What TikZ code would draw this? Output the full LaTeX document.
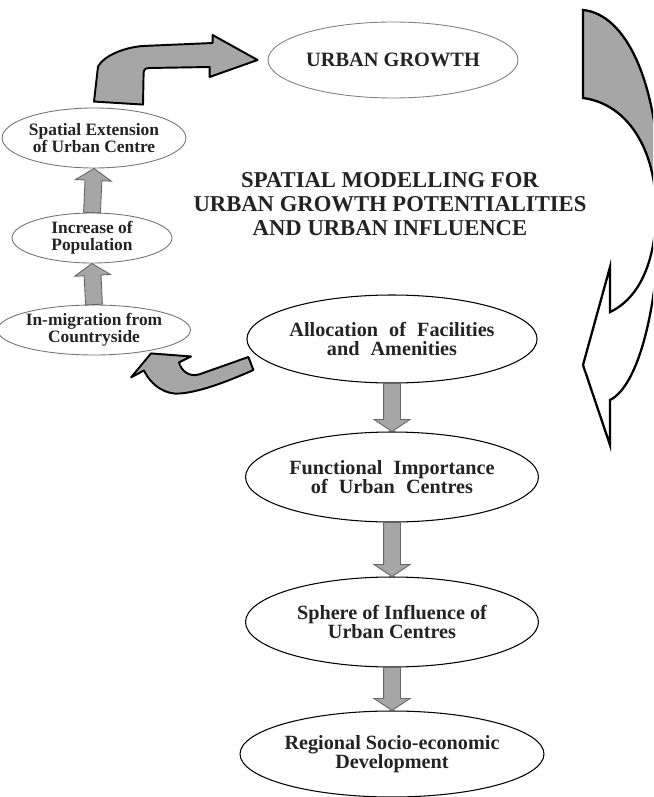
\documentclass[tikz,border=0pt]{standalone}
\usepackage{fontspec}
\setmainfont{Liberation Serif}
\usetikzlibrary{shapes.geometric, positioning, calc}
\definecolor{ArrowFill}{RGB}{166,166,166}
\definecolor{TextColor}{RGB}{35,35,35}
\newcommand{\widesp}{\spaceskip=0.55em plus 0.1em\relax}
\tikzstyle{leftbox} = [ellipse, draw=black!55, line width=0.5pt, inner sep=0pt, align=center, text=TextColor, font=\fontsize{9.9}{9.7}\selectfont\bfseries]
\tikzstyle{mainbox} = [ellipse, draw=black, line width=0.6pt, inner sep=0pt, align=center, text=TextColor, font=\fontsize{11.5}{10.6}\selectfont\bfseries, minimum width=5.86cm, minimum height=1.8cm]
\tikzstyle{blockarr} = [fill=ArrowFill, draw=black!60, line width=0.5pt, line join=miter]
\tikzstyle{bigarr} = [fill=ArrowFill, draw=black, line width=1.1pt, line join=round]
% straight block arrow from #1 to #2
\newcommand{\blockarrow}[2]{%
  \coordinate (ba-h) at ($(#2)!6.8pt!(#1)$);
  \draw[blockarr] ($(#1)!4.8pt!90:(#2)$) -- ($(ba-h)!4.8pt!90:(#2)$) -- ($(ba-h)!10.2pt!90:(#2)$) -- (#2)
    -- ($(ba-h)!10.2pt!-90:(#2)$) -- ($(ba-h)!4.8pt!-90:(#2)$) -- ($(#1)!4.8pt!-90:(#2)$) -- cycle;}

\begin{document}
\begin{tikzpicture}[x=0.02cm, y=-0.02cm]
\useasboundingbox (0,0) rectangle (653,797);

% goal
\node[ellipse, draw=black!50, line width=0.5pt, inner sep=0pt, minimum width=5cm, minimum height=1.52cm,
  text=TextColor, font=\fontsize{11.6}{12}\selectfont\bfseries] (urban) at (393,60) {URBAN GROWTH};

% title
\node[align=center, text=TextColor, font=\fontsize{12.9}{13.6}\selectfont\bfseries] (title) at (390,204)
  {SPATIAL MODELLING FOR\\URBAN GROWTH POTENTIALITIES\\AND URBAN INFLUENCE};

% left cycle
\node[leftbox, minimum width=3.24cm, minimum height=1.2cm] (spat) at (94,138) {Spatial Extension\\of Urban Centre};
\node[leftbox, minimum width=3.2cm, minimum height=1cm] (inc) at (92,238) {Increase of\\Population};
\node[leftbox, minimum width=3.28cm, minimum height=1cm] (inmig) at (94,330) {In-migration from\\Countryside};

% main chain
\node[mainbox, minimum width=5.8cm, minimum height=1.76cm] (alloc) at (392,339) {\widesp Allocation of Facilities\\\widesp and Amenities};
\node[mainbox] (func) at (392,477) {\widesp Functional Importance\\\widesp of Urban Centres};
\node[mainbox] (sphere) at (392,622) {Sphere of Influence of\\Urban Centres};
\node[mainbox, minimum height=1.72cm] (reg) at (392,754) {Regional Socio-economic\\Development};

\blockarrow{inc.north}{spat.south}
\blockarrow{inmig.north}{inc.south}
\blockarrow{alloc.south}{func.north}
\blockarrow{func.south}{sphere.north}
\blockarrow{sphere.south}{reg.north}

% bent arrow to urban growth
\coordinate (bt) at ($(urban.west)+(-10,0)$);
\draw[bigarr] ($(spat.north)+(0,-6)$) -- ($(spat.north)+(4,-41)$)
  .. controls ($(spat.north)+(10,-52)$) and ($(spat.north)+(30,-60)$) .. ($(bt)+(-115,-14)$)
  -- ($(bt)+(-45,-17)$) -- ($(bt)+(-45,-25)$) -- (bt) -- ($(bt)+(-48,17)$) -- ($(bt)+(-48,7)$)
  -- ($(bt)+(-108,8)$) .. controls ($(bt)+(-113,8)$) and ($(bt)+(-114,10)$) .. ($(bt)+(-114,14)$)
  -- ($(spat.north)+(49,-3)$) -- cycle;

% curved arrow back to in-migration
\coordinate (mt) at ($(inmig.south)+(57,-2)$);
\draw[bigarr] ($(alloc.west)+(2,18)$) -- ($(mt)+(48,21)$)
  .. controls ($(mt)+(38,24)$) and ($(mt)+(30,17)$) .. ($(mt)+(28,9)$)
  -- ($(mt)+(40,3)$) -- (mt) -- ($(mt)+(-20,24)$) -- ($(mt)+(-7,17)$)
  .. controls ($(mt)+(0,32)$) and ($(mt)+(15,42)$) .. ($(mt)+(30,40)$)
  .. controls ($(mt)+(50,38)$) and ($(alloc.west)+(-20,43)$) .. ($(alloc.west)+(7,31)$) -- cycle;

% big curved arrow on the right
\begin{scope}
  \clip (0,0) rectangle (653,797);
  \fill[white] (583,10) .. controls (625,14) and (660,80) .. (660,200)
    .. controls (660,300) and (640,385) .. (610,400) -- (610,445) -- (583,365) -- (610,267) -- (610,312)
    .. controls (640,298) and (656,260) .. (656,210) .. controls (656,150) and (628,104) .. (583,98) -- cycle;
  \fill[ArrowFill] (583,10) .. controls (625,14) and (660,80) .. (660,200) -- (656,210)
    .. controls (656,150) and (628,104) .. (583,98) -- cycle;
  \draw[black, line width=1.3pt, line join=miter] (583,10) .. controls (625,14) and (660,80) .. (660,200)
    .. controls (660,300) and (640,385) .. (610,400) -- (610,445) -- (583,365) -- (610,267) -- (610,312)
    .. controls (640,298) and (656,260) .. (656,210) .. controls (656,150) and (628,104) .. (583,98) -- cycle;
\end{scope}
\end{tikzpicture}
\end{document}
